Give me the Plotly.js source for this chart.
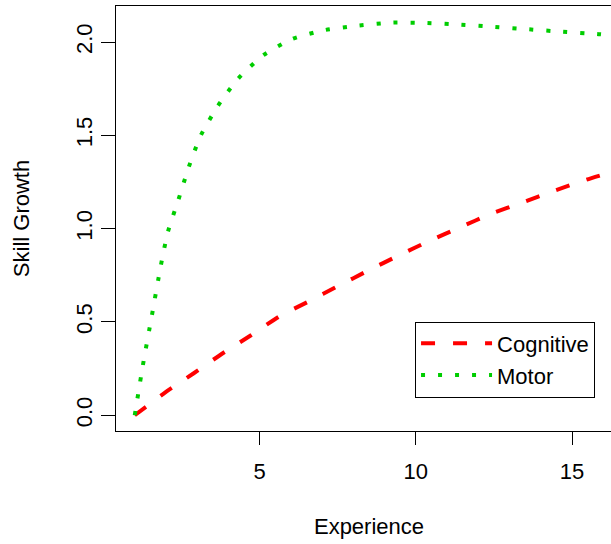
<!DOCTYPE html>
<html>
<head>
<meta charset="utf-8">
<script src="https://cdn.plot.ly/plotly-3.0.1.min.js"></script>
<style>
html, body { margin: 0; padding: 0; overflow: hidden; background: #fff; }
#chart { width: 640px; height: 544px; }
</style>
</head>
<body>
<div id="chart"></div>
<script>
// Data
const cognitiveX = [1, 2.00, 2.89, 3.77, 4.71, 5.62, 6.55, 7.52, 8.48, 9.46, 10.44, 11.40, 12.39, 13.41, 14.43, 15.45, 16];
const cognitiveY = [0, 0.125, 0.225, 0.327, 0.427, 0.529, 0.608, 0.693, 0.776, 0.857, 0.935, 1.006, 1.078, 1.140, 1.203, 1.262, 1.29];

const motorX = [1, 1.26, 1.55, 1.84, 2.06, 2.40, 2.73, 3.11, 3.66, 4.30, 5.10, 6.04, 7.09, 8.17, 9.26, 10.36, 11.44, 12.53, 13.62, 14.70, 15.80, 16];
const motorY = [0, 0.267, 0.536, 0.806, 0.982, 1.156, 1.330, 1.498, 1.657, 1.802, 1.927, 2.016, 2.064, 2.088, 2.104, 2.102, 2.093, 2.081, 2.068, 2.055, 2.043, 2.040];

const xTicks = [5, 10, 15];
const yTicks = [0.0, 0.5, 1.0, 1.5, 2.0];
const yTickLabels = ["0.0", "0.5", "1.0", "1.5", "2.0"];
const seriesNames = ["Cognitive", "Motor"];

const fontFamily = "Liberation Sans, Arial, sans-serif";

const traces = [
  {
    x: cognitiveX, y: cognitiveY, name: seriesNames[0], type: "scatter", mode: "lines",
    line: { color: "#FF0000", width: 4, dash: "14px,18px", shape: "spline", smoothing: 0.6 }
  },
  {
    x: motorX, y: motorY, name: seriesNames[1], type: "scatter", mode: "lines",
    line: { color: "#00CD00", width: 4, dash: "4px,13px", shape: "spline", smoothing: 0.6 }
  }
];

const layout = {
  width: 640, height: 544,
  margin: { l: 116, r: 18, t: 6, b: 113, pad: 0 },
  paper_bgcolor: "#fff", plot_bgcolor: "#fff",
  font: { family: fontFamily, size: 22, color: "#000" },
  showlegend: true,
  legend: {
    x: 0.591, y: 0.2576, xanchor: "left", yanchor: "top",
    bordercolor: "#000", borderwidth: 1, bgcolor: "#fff",
    font: { family: fontFamily, size: 22, color: "#000" },
    tracegroupgap: 0, itemwidth: 71
  },
  xaxis: {
    range: [0.4, 16.6], tickvals: xTicks, ticktext: xTicks.map(String),
    showgrid: false, zeroline: false, showline: true, mirror: true,
    linecolor: "#000", linewidth: 1, ticks: "outside", ticklen: 13, tickwidth: 1, tickcolor: "#000",
    ticklabelstandoff: 8,
    tickfont: { family: fontFamily, size: 22, color: "#000" },
    title: { text: "Experience", font: { family: fontFamily, size: 22, color: "#000" }, standoff: 35 },
    automargin: false, fixedrange: true
  },
  yaxis: {
    range: [-0.0844, 2.193], tickvals: yTicks, ticktext: yTickLabels, tickangle: -90,
    showgrid: false, zeroline: false, showline: true, mirror: true,
    linecolor: "#000", linewidth: 1, ticks: "outside", ticklen: 14, tickwidth: 1, tickcolor: "#000",
    tickfont: { family: fontFamily, size: 22, color: "#000" },
    title: { text: "Skill Growth", font: { family: fontFamily, size: 22, color: "#000" }, standoff: 36 },
    automargin: false, fixedrange: true
  }
};

Plotly.newPlot("chart", traces, layout, { staticPlot: true, displayModeBar: false });
</script>
</body>
</html>
